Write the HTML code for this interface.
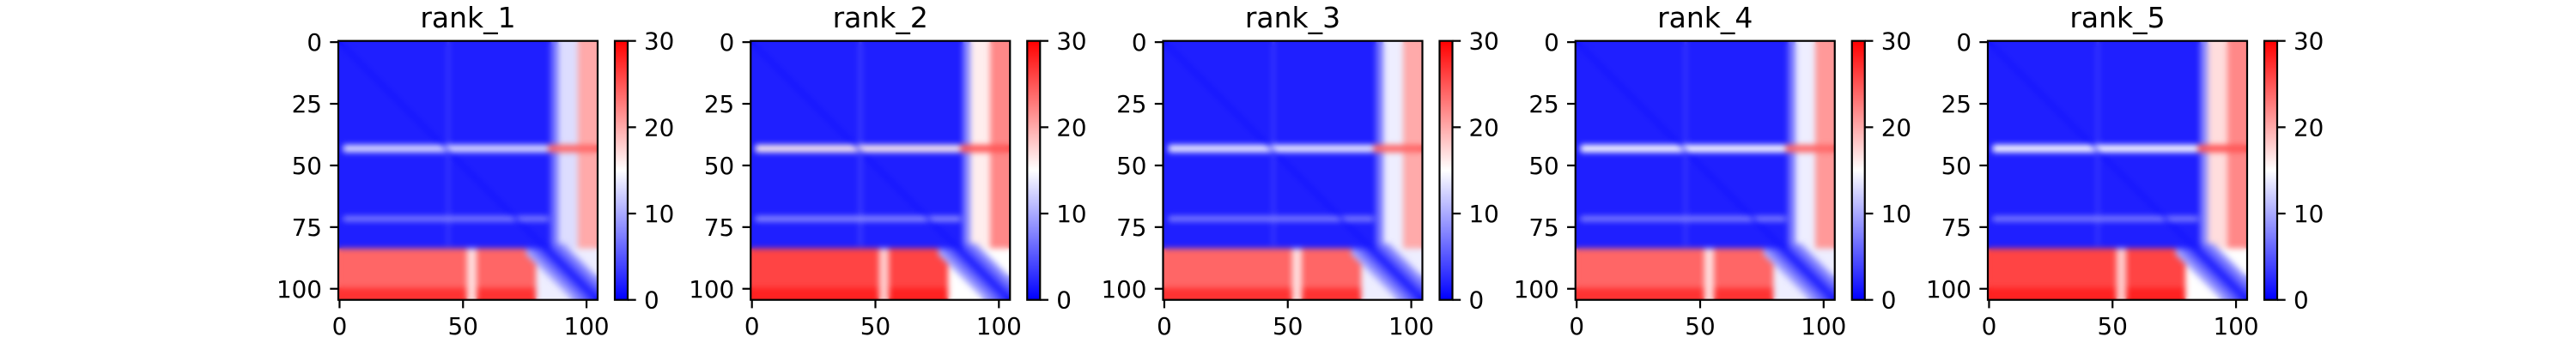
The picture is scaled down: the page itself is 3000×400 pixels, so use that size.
<!DOCTYPE html>
<html><head><meta charset="utf-8">
<style>
html,body{margin:0;padding:0;background:#fff;}
#root{position:relative;width:3000px;height:400px;overflow:hidden;background:#fff;}
canvas{position:absolute;}
svg{position:absolute;left:0;top:0;}
text{font-family:"DejaVu Sans","Liberation Sans",sans-serif;fill:#000;}
</style></head>
<body>
<div id="root">
<svg id="ov" width="3000" height="400"></svg>
</div>
<script>
// ---- data ----
const panelTitles = ['rank_1','rank_2','rank_3','rank_4','rank_5'];
const nRes = 105;
const xTicks = [0,50,100];
const yTicks = [0,25,50,75,100];
const cbTicks = [0,10,20,30];
const coreVal = [1.8,1.8,1.8,1.8,1.8];
const stripeVal = [4,4.5,4,4,4];
const edgeVal = [7,8,7,7,8];
const rightVal = [13,16,14,14,17];
const farRightVal = [20,22,20,21,22];
const band43Val = [13,16,14,15,15];
const band43RightVal = [24,25,24,24,25];
const band72Val = [8,9,8,8,8];
const bottomVal = [24,26,24,24,26];
const bottomEdgeVal = [27,28,27,27,28];
const gapVal = [17,18,17,17,18];
const lowerRightVal = [14,15,14,14,15];
const diagVal = [0.5,0.5,0.5,0.5,0.5];
const vmin = 0, vmax = 30;

// ---- layout ----
const P0 = 394, DX = 480.25, TOP = 47.7, SZ = 302;
const CBX = 322, CBW = 15;
const NS = 'http://www.w3.org/2000/svg';
const ov = document.getElementById('ov');
const root = document.getElementById('root');

function bwr(v){
  let t = Math.max(0, Math.min(1, (v - vmin) / (vmax - vmin)));
  if (t < 0.5){ const s = t/0.5; return [Math.round(255*s), Math.round(255*s), 255]; }
  const s = (t-0.5)/0.5; return [255, Math.round(255*(1-s)), Math.round(255*(1-s))];
}
function el(tag, attrs, parent){
  const e = document.createElementNS(NS, tag);
  for (const k in attrs) e.setAttribute(k, attrs[k]);
  (parent||ov).appendChild(e); return e;
}
function buildMatrix(p){
  const regions = [
    [0,104,0,104,coreVal[p]],
    [0,82,44,44,stripeVal[p]],
    [0,84,86,88,edgeVal[p]],
    [0,84,89,104,rightVal[p]],
    [0,84,97,104,farRightVal[p]],
    [42,44,2,84,band43Val[p]],
    [42,44,85,104,band43RightVal[p]],
    [71,72,2,84,band72Val[p]],
    [84,104,0,104,lowerRightVal[p]],
    [84,104,0,79,bottomVal[p]],
    [100,104,0,79,bottomEdgeVal[p]],
    [84,104,52,55,gapVal[p]]
  ];
  const m = [];
  for (let r=0;r<nRes;r++){
    const row=[];
    for (let c=0;c<nRes;c++){
      let v = coreVal[p];
      for (const g of regions) if (r>=g[0]&&r<=g[1]&&c>=g[2]&&c<=g[3]) v=g[4];
      const d = r-c;
      if (r>=82 && c>=76){
        const w = d>0 ? 10 : 9;
        if (Math.abs(d)<=w) v = Math.min(v, coreVal[p] + Math.abs(d)*0.9);
      }
      if (d===0) v = diagVal[p];
      row.push(v);
    }
    m.push(row);
  }
  return m;
}
const sx = v => (v+0.5)*SZ/nRes;

panelTitles.forEach((title,p)=>{
  const x0 = P0 + p*DX;
  const m = buildMatrix(p);
  const off = document.createElement('canvas'); off.width=nRes; off.height=nRes;
  const oc = off.getContext('2d'); const img = oc.createImageData(nRes,nRes);
  for (let r=0;r<nRes;r++) for (let c=0;c<nRes;c++){
    const col = bwr(m[r][c]); const i=(r*nRes+c)*4;
    img.data[i]=col[0]; img.data[i+1]=col[1]; img.data[i+2]=col[2]; img.data[i+3]=255;
  }
  oc.putImageData(img,0,0);
  const cv = document.createElement('canvas');
  cv.width=SZ; cv.height=SZ; cv.style.left=x0+'px'; cv.style.top=TOP+'px';
  
  
  const ctx = cv.getContext('2d'); ctx.imageSmoothingEnabled = true;
  ctx.drawImage(off,0,0,SZ,SZ);
  ctx.filter = 'blur(3px)';
  ctx.drawImage(off,0,0,SZ,SZ);
  ctx.filter = 'none';
  root.insertBefore(cv, ov);

  const g = el('g',{});
  
  
  const t = el('text',{x:x0+SZ/2,y:32,'font-size':33,'text-anchor':'middle'},g);
  t.textContent = title;
  
  
  const frame = el('rect',{x:x0,y:TOP,width:SZ,height:SZ,fill:'none',stroke:'#000','stroke-width':2.2},g);
  
  
  xTicks.forEach(v=>{
    const x = x0+sx(v);
    el('line',{x1:x,x2:x,y1:TOP+SZ,y2:TOP+SZ+9.7,stroke:'#000','stroke-width':2.2},g);
    const tl = el('text',{x:x,y:390,'font-size':27.8,'text-anchor':'middle'},g);
    tl.textContent = v;
    
    
  });
  yTicks.forEach(v=>{
    const y = TOP+sx(v);
    el('line',{x1:x0-9.7,x2:x0,y1:y,y2:y,stroke:'#000','stroke-width':2.2},g);
    const tl = el('text',{x:x0-19,y:y+10,'font-size':27.8,'text-anchor':'end'},g);
    tl.textContent = v;
    
    
  });
  const cx = x0+CBX;
  const gid = 'cbg'+p;
  const defs = el('defs',{},g);
  const lg = el('linearGradient',{id:gid,x1:0,y1:1,x2:0,y2:0},defs);
  el('stop',{offset:'0','stop-color':'#0000ff'},lg);
  el('stop',{offset:'0.5','stop-color':'#ffffff'},lg);
  el('stop',{offset:'1','stop-color':'#ff0000'},lg);
  const cb = el('rect',{x:cx,y:TOP,width:CBW,height:SZ,fill:'url(#'+gid+')',stroke:'#000','stroke-width':2.2},g);
  
  
  cbTicks.forEach(v=>{
    const y = TOP+SZ-(v-vmin)/(vmax-vmin)*SZ;
    el('line',{x1:cx+CBW,x2:cx+CBW+9.7,y1:y,y2:y,stroke:'#000','stroke-width':2.2},g);
    const tl = el('text',{x:cx+CBW+19,y:y+10,'font-size':27.8},g);
    tl.textContent = v;
    
    
  });
});
</script>
</body></html>
